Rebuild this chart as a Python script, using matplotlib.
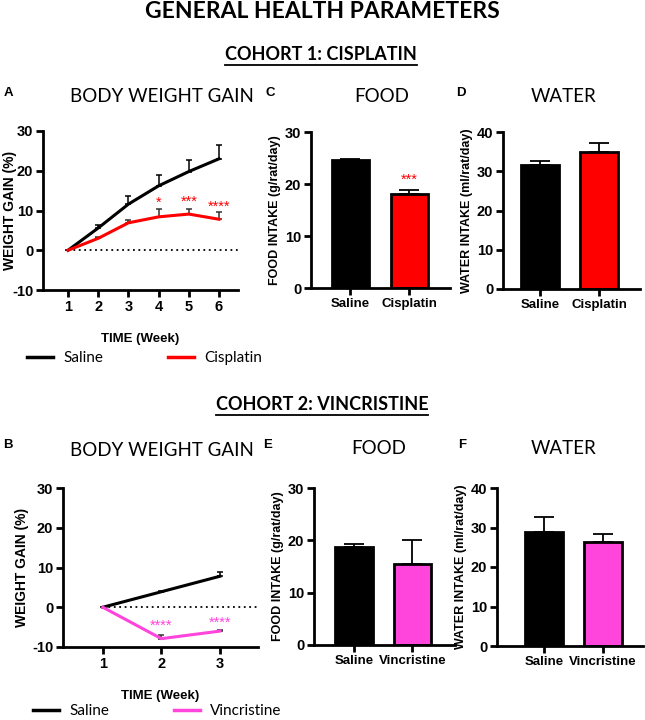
import numpy as np
import matplotlib
matplotlib.use('Agg')
import matplotlib.pyplot as plt
from matplotlib.lines import Line2D

plt.rcParams['font.family'] = ['Liberation Sans', 'DejaVu Sans']
plt.rcParams['axes.unicode_minus'] = False

# ---- data ----
weeks_cis = [1, 2, 3, 4, 5, 6]
saline_cis = [0, 5.6, 11.6, 16.2, 19.8, 23.0]
saline_cis_err = [0, 0.7, 2.1, 2.8, 3.0, 3.6]
cisplatin = [0, 3.0, 6.9, 8.4, 9.1, 7.8]
cisplatin_err = [0, 0.4, 0.7, 2.0, 1.3, 1.8]
cis_stars = ['', '', '', '*', '***', '****']
cis_star_y = [0, 0, 0, 12.0, 12.2, 11.0]

weeks_vin = [1, 2, 3]
saline_vin = [0, 3.9, 7.8]
saline_vin_err = [0, 0.3, 1.0]
vincristine = [0, -7.9, -6.0]
vincristine_err = [0, 0.9, 0.4]
vin_stars = ['', '****', '****']
vin_star_y = [0, -4.6, -3.8]

groups_cis = ['Saline', 'Cisplatin']
food_cis = [24.6, 18.1]
food_cis_err = [0.3, 0.7]
food_cis_stars = ['', '***']
food_cis_star_y = [0, 20.8]
water_cis = [31.5, 34.9]
water_cis_err = [1.0, 2.2]

groups_vin = ['Saline', 'Vincristine']
food_vin = [18.8, 15.4]
food_vin_err = [0.5, 4.7]
water_vin = [28.9, 26.3]
water_vin_err = [3.7, 2.0]

RED = '#ff0000'
PINK = '#ff45dc'
W, H = 645, 720
TFONT = ['Lato', 'DejaVu Sans']

fig = plt.figure(figsize=(W / 100, H / 100), dpi=100)


def rect(l, r, t, b):
    return [l / W, 1 - b / H, (r - l) / W, (b - t) / H]


def style(ax):
    for s in ['top', 'right']:
        ax.spines[s].set_visible(False)
    for s in ['left', 'bottom']:
        ax.spines[s].set_linewidth(2)
    ax.tick_params(width=2, length=5, labelsize=10.5, pad=2)
    for lab in ax.get_xticklabels() + ax.get_yticklabels():
        lab.set_fontweight('bold')


def line_panel(ax, weeks, s, se, d, de, dcol, stars, star_y, xlim, dname, ylab_x):
    ax.set_xlim(*xlim)
    ax.set_ylim(-10, 30)
    ax.hlines(0, weeks[0], xlim[1], colors='black', linestyles=(0, (1, 2)), lw=1.3)
    ax.errorbar(weeks, s, yerr=[np.zeros(len(se)), se], color='black', lw=2.2,
                elinewidth=1.1, capsize=2.5, capthick=1.1, label='Saline')
    ax.errorbar(weeks, d, yerr=[np.zeros(len(de)), de], color=dcol, lw=2.2,
                ecolor='#333333', elinewidth=1.1, capsize=2.5, capthick=1.1, label=dname)
    for x, t, y in zip(weeks, stars, star_y):
        if t:
            ax.text(x, y, t, color=dcol, ha='center', va='center', fontsize=10.5)
    ax.set_xticks(weeks)
    ax.set_yticks([-10, 0, 10, 20, 30])
    ax.set_ylabel('WEIGHT GAIN (%)', fontsize=10, fontweight='bold')
    ax.yaxis.set_label_coords(ylab_x, 0.5)
    ax.set_xlabel('TIME (Week)', fontsize=9.5, fontweight='bold', labelpad=14)
    style(ax)


def bar_panel(ax, groups, vals, errs, col, xlim, ylim, yticks, ylabel, stars=None, star_y=None):
    x = np.arange(len(groups))
    ax.bar(x, vals, width=0.64, color=['black', col], edgecolor='black', lw=2, zorder=2)
    ax.errorbar(x, vals, yerr=[np.zeros(len(errs)), errs], fmt='none', ecolor='black',
                elinewidth=1.3, capsize=7, capthick=1.3, zorder=1)
    if stars:
        for xi, t, y in zip(x, stars, star_y):
            if t:
                ax.text(xi, y, t, color=col, ha='center', va='center', fontsize=10.5)
    ax.set_xlim(*xlim)
    ax.set_ylim(*ylim)
    ax.set_xticks(x)
    ax.set_xticklabels(groups)
    ax.set_yticks(yticks)
    ax.set_ylabel(ylabel, fontsize=9, fontweight='bold', labelpad=3)
    style(ax)
    ax.tick_params(axis='x', labelsize=9.5)


# ---- cohort 1 ----
axA = fig.add_axes(rect(43, 238, 131, 290))
line_panel(axA, weeks_cis, saline_cis, saline_cis_err, cisplatin, cisplatin_err, RED,
           cis_stars, cis_star_y, (0.17, 6.63), 'Cisplatin', (17 - 43) / 195)
axC = fig.add_axes(rect(311, 450, 132, 288))
bar_panel(axC, groups_cis, food_cis, food_cis_err, RED, (-0.67, 1.69), (0, 30),
          [0, 10, 20, 30], 'FOOD INTAKE (g/rat/day)', food_cis_stars, food_cis_star_y)
axD = fig.add_axes(rect(503, 640, 132, 289))
bar_panel(axD, groups_cis, water_cis, water_cis_err, RED, (-0.63, 1.69), (0, 40),
          [0, 10, 20, 30, 40], 'WATER INTAKE (ml/rat/day)')

# ---- cohort 2 ----
axB = fig.add_axes(rect(63, 258, 488, 647))
line_panel(axB, weeks_vin, saline_vin, saline_vin_err, vincristine, vincristine_err, PINK,
           vin_stars, vin_star_y, (0.32, 3.65), 'Vincristine', (29 - 63) / 195)
axE = fig.add_axes(rect(314, 455, 488, 645))
bar_panel(axE, groups_vin, food_vin, food_vin_err, PINK, (-0.68, 1.73), (0, 30),
          [0, 10, 20, 30], 'FOOD INTAKE (g/rat/day)')
axF = fig.add_axes(rect(497, 643, 488, 646))
bar_panel(axF, groups_vin, water_vin, water_vin_err, PINK, (-0.8, 1.68), (0, 40),
          [0, 10, 20, 30, 40], 'WATER INTAKE (ml/rat/day)')

# legends
for ax, x0, y0 in [(axA, (27 - 43) / 195, (290 - 358) / 159), (axB, -0.154, (647 - 711) / 159)]:
    h, l = ax.get_legend_handles_labels()
    handles = [Line2D([], [], color=hh[0].get_color(), lw=2.5) for hh in h]
    ax.legend(handles, l, loc='center left', bbox_to_anchor=(x0, y0), ncol=2,
              frameon=False, borderpad=0, borderaxespad=0, handlelength=1.7,
              handletextpad=0.7, columnspacing=4.2, prop={'family': TFONT, 'size': 11})


# ---- titles ----
def ftext(x, y, s, **kw):
    return fig.text(x / W, 1 - y / H, s, ha='center', va='center', **kw)


ftext(322, 12, 'GENERAL HEALTH PARAMETERS', fontsize=16.5, fontweight='bold', family=TFONT)
c1 = ftext(321, 55, 'COHORT 1: CISPLATIN', fontsize=13, fontweight='bold', family=TFONT)
c2 = ftext(322, 405, 'COHORT 2: VINCRISTINE', fontsize=13, fontweight='bold', family=TFONT)

for x, y, s in [(162, 97, 'BODY WEIGHT GAIN'), (382, 97, 'FOOD'), (564, 97, 'WATER'),
                (162, 450, 'BODY WEIGHT GAIN'), (379, 448, 'FOOD'), (564, 448, 'WATER')]:
    ftext(x, y, s, fontsize=13.5, family=TFONT)

for x, y, s in [(8, 93, 'A'), (270, 93, 'C'), (461, 93, 'D'),
                (8, 445, 'B'), (268, 445, 'E'), (462, 445, 'F')]:
    ftext(x, y, s, fontsize=9.5, fontweight='bold')

# underline cohort headings
fig.canvas.draw()
r = fig.canvas.get_renderer()
for t in (c1, c2):
    bb = t.get_window_extent(r)
    yy = bb.y0 - 1
    fig.add_artist(Line2D([bb.x0 / W, bb.x1 / W], [yy / H, yy / H], color='black', lw=1.3))

fig.savefig('out.png', dpi=100)
